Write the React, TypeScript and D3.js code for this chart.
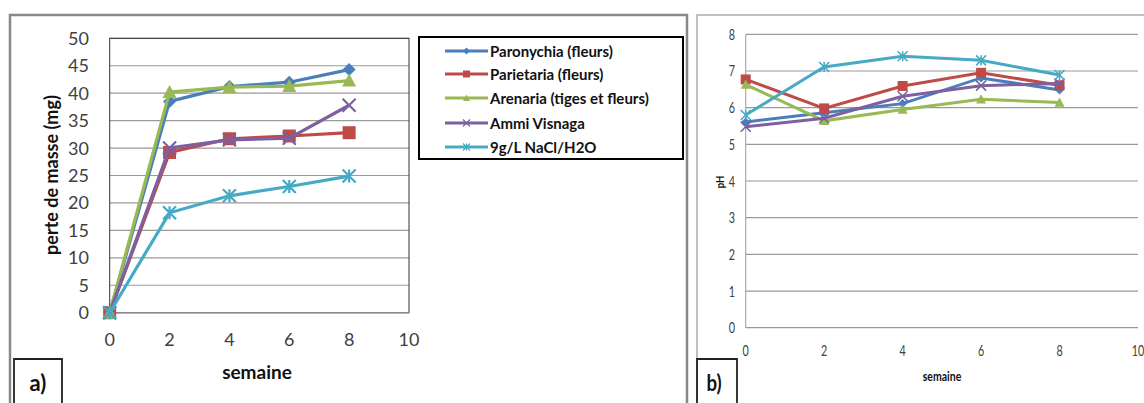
import React from "react";
import * as d3 from "d3";

const weeks = [0, 2, 4, 6, 8];
const seriesNames = [
  "Paronychia (fleurs)",
  "Parietaria (fleurs)",
  "Arenaria (tiges et fleurs)",
  "Ammi Visnaga",
  "9g/L NaCl/H2O",
];
const colors = ["#4a7ebb", "#be4b48", "#98b954", "#7d60a0", "#46aac5"];
const markers = ["diamond", "square", "triangle", "x", "star"];

// Panel a) perte de masse (mg)
const massParonychia = [0, 38.5, 41.2, 42.0, 44.3];
const massParietaria = [0, 29.2, 31.7, 32.2, 32.8];
const massArenaria = [0, 40.2, 41.1, 41.3, 42.3];
const massAmmi = [0, 30.0, 31.5, 31.8, 37.8];
const massNaCl = [0, 18.2, 21.3, 23.0, 24.9];

// Panel b) pH
const phParonychia = [5.61, 5.86, 6.11, 6.81, 6.48];
const phParietaria = [6.77, 5.98, 6.59, 6.95, 6.61];
const phArenaria = [6.63, 5.64, 5.95, 6.23, 6.14];
const phAmmi = [5.48, 5.71, 6.31, 6.6, 6.66];
const phNaCl = [5.8, 7.11, 7.4, 7.29, 6.89];

const xTicks = [0, 2, 4, 6, 8, 10];
const massTicks = [0, 5, 10, 15, 20, 25, 30, 35, 40, 45, 50];
const phTicks = [0, 1, 2, 3, 4, 5, 6, 7, 8];

const massData = [massParonychia, massParietaria, massArenaria, massAmmi, massNaCl];
const phData = [phParonychia, phParietaria, phArenaria, phAmmi, phNaCl];

function markerPath(type: string, s: number): string {
  const h = s / 2;
  switch (type) {
    case "diamond":
      return `M0,${-h}L${h},0L0,${h}L${-h},0Z`;
    case "square":
      return `M${-h},${-h}H${h}V${h}H${-h}Z`;
    case "triangle":
      return `M0,${-h}L${h},${h * 0.85}L${-h},${h * 0.85}Z`;
    case "x":
      return `M${-h},${-h}L${h},${h}M${h},${-h}L${-h},${h}`;
    case "star":
      return `M${-h},${-h}L${h},${h}M${h},${-h}L${-h},${h}M0,${-h}L0,${h}`;
    default:
      return "";
  }
}

function Marker({ type, x, y, s, color, sw }: any) {
  const open = type === "x" || type === "star";
  return (
    <path
      d={markerPath(type, s)}
      transform={`translate(${x},${y})`}
      fill={open ? "none" : color}
      stroke={color}
      strokeWidth={open ? sw : 0}
    />
  );
}

const FONT = "Lato, 'Open Sans', sans-serif";

export default function App() {
  const xa = d3.scaleLinear().domain([0, 10]).range([109.7, 409]);
  const ya = d3.scaleLinear().domain([0, 50]).range([312.7, 38.3]);
  const xb = d3.scaleLinear().domain([0, 10]).range([745.7, 1138]);
  const yb = d3.scaleLinear().domain([0, 8]).range([327.7, 34.3]);

  const lineA = d3
    .line<number>()
    .x((_, i) => xa(weeks[i]))
    .y((d) => ya(d));
  const lineB = d3
    .line<number>()
    .x((_, i) => xb(weeks[i]))
    .y((d) => yb(d));

  const legendX = 445;
  const legendRows = [51, 74, 98, 123, 147];

  const sizeA: any = { diamond: 13, square: 13, triangle: 14, x: 13, star: 13 };
  const sizeB: any = { diamond: 9, square: 10, triangle: 10, x: 10, star: 10 };

  return (
    <svg
      width={1144}
      height={403}
      style={{ position: "absolute", left: 0, top: 0, background: "#fff" }}
      fontFamily={FONT}
    >
      <rect x={0} y={0} width={1144} height={403} fill="#fff" />

      {/* ---------- Panel a ---------- */}
      <path d="M10,405V15H687V405" fill="none" stroke="#888" strokeWidth={2.5} />

      {massTicks.map((t) => (
        <line
          key={"ga" + t}
          x1={xa(0)}
          x2={xa(10)}
          y1={ya(t)}
          y2={ya(t)}
          stroke="#9a9a9a"
          strokeWidth={1.2}
        />
      ))}
      <rect
        x={xa(0)}
        y={ya(50)}
        width={xa(10) - xa(0)}
        height={ya(0) - ya(50)}
        fill="none"
        stroke="#333"
        strokeWidth={1}
      />
      <line x1={xa(0)} x2={xa(10)} y1={ya(0)} y2={ya(0)} stroke="#888" strokeWidth={1.2} />

      {massTicks.map((t) => (
        <text
          key={"ya" + t}
          x={89}
          y={ya(t) + 6.5}
          textAnchor="end"
          fontSize={18}
          fill="#404040"
        >
          {t}
        </text>
      ))}
      {xTicks.map((t) => (
        <text
          key={"xa" + t}
          x={xa(t)}
          y={346}
          textAnchor="middle"
          fontSize={18}
          fill="#404040"
        >
          {t}
        </text>
      ))}
      <text
        transform={`translate(58,175) rotate(-90)`}
        textAnchor="middle"
        fontSize={18}
        fontWeight="bold"
        fill="#111"
      >
        perte de masse (mg)
      </text>
      <text x={257} y={379} textAnchor="middle" fontSize={19} fontWeight="bold" fill="#111">
        semaine
      </text>

      {massData.map((vals, si) => (
        <g key={"sa" + si}>
          <path d={lineA(vals) || ""} fill="none" stroke={colors[si]} strokeWidth={3.2} />
          {vals.map((v, i) => (
            <Marker
              key={i}
              type={markers[si]}
              x={xa(weeks[i])}
              y={ya(v)}
              s={sizeA[markers[si]]}
              color={colors[si]}
              sw={2.2}
            />
          ))}
        </g>
      ))}

      {/* legend */}
      <rect x={419} y={37} width={264} height={122} fill="#fff" stroke="#000" strokeWidth={2} />
      {seriesNames.map((n, si) => (
        <g key={"lg" + si}>
          <line
            x1={legendX}
            x2={legendX + 43}
            y1={legendRows[si]}
            y2={legendRows[si]}
            stroke={colors[si]}
            strokeWidth={3.2}
          />
          <Marker
            type={markers[si]}
            x={legendX + 21.5}
            y={legendRows[si]}
            s={7}
            color={colors[si]}
            sw={1.2}
          />
          <text x={490} y={legendRows[si] + 5.5} fontSize={15} fontWeight="bold" fill="#111">
            {n}
          </text>
        </g>
      ))}

      <path d="M14,405V359H62V405" fill="none" stroke="#222" strokeWidth={1.8} />
      <text x={38} y={391} textAnchor="middle" fontSize={22} fontWeight="bold" fill="#111">
        a)
      </text>

      {/* ---------- Panel b ---------- */}
      <path d="M697,405V15H1146" fill="none" stroke="#aaa" strokeWidth={1.5} />
      {phTicks.map((t) => (
        <line
          key={"gb" + t}
          x1={xb(0)}
          x2={xb(10)}
          y1={yb(t)}
          y2={yb(t)}
          stroke="#9a9a9a"
          strokeWidth={1.2}
        />
      ))}
      <line x1={xb(0)} x2={xb(0)} y1={yb(8)} y2={yb(0)} stroke="#aaa" strokeWidth={1.2} />

      {phTicks.map((t) => (
        <text
          key={"yb" + t}
          transform={`translate(735,${yb(t) + 5.5}) scale(0.72,1)`}
          textAnchor="end"
          fontSize={15}
          fill="#404040"
        >
          {t}
        </text>
      ))}
      {xTicks.map((t) => (
        <text
          key={"xb" + t}
          transform={`translate(${xb(t)},${356}) scale(0.72,1)`}
          textAnchor="middle"
          fontSize={15}
          fill="#404040"
        >
          {t}
        </text>
      ))}
      <text
        transform={`translate(724,182) rotate(-90) scale(0.8,1)`}
        textAnchor="middle"
        fontSize={12}
        fontWeight="bold"
        fill="#111"
      >
        pH
      </text>
      <text
        transform={`translate(942,381) scale(0.75,1)`}
        textAnchor="middle"
        fontSize={14}
        fontWeight="bold"
        fill="#111"
      >
        semaine
      </text>

      {phData.map((vals, si) => (
        <g key={"sb" + si}>
          <path d={lineB(vals) || ""} fill="none" stroke={colors[si]} strokeWidth={3} />
          {vals.map((v, i) => (
            <Marker
              key={i}
              type={markers[si]}
              x={xb(weeks[i])}
              y={yb(v)}
              s={sizeB[markers[si]]}
              color={colors[si]}
              sw={1.6}
            />
          ))}
        </g>
      ))}

      <path d="M697,405V359H737V405" fill="none" stroke="#222" strokeWidth={1.8} />
      <text
        transform="translate(714,391) scale(0.85,1)"
        textAnchor="middle"
        fontSize={22}
        fontWeight="bold"
        fill="#111"
      >
        b)
      </text>
    </svg>
  );
}
